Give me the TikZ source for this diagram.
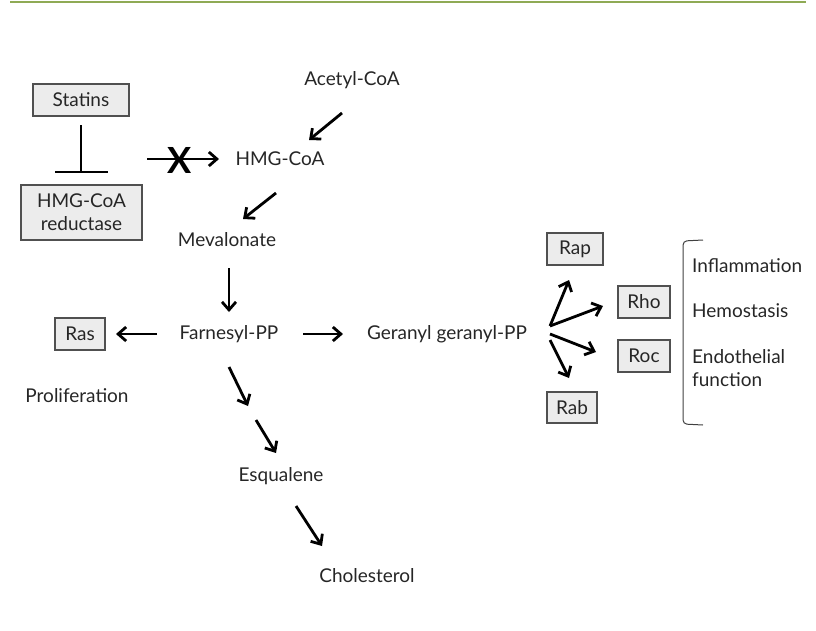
\documentclass[tikz,border=0pt]{standalone}
\usepackage{fontspec}
\setmainfont{Lato}
\usetikzlibrary{arrows.meta}
\definecolor{txt}{HTML}{262626}
\definecolor{boxfill}{HTML}{ECECEC}
\definecolor{boxline}{HTML}{505050}
\definecolor{topline}{HTML}{8FAA55}
\begin{document}
\begin{tikzpicture}[x=1pt,y=-1pt,
  every node/.style={text=txt,font=\fontsize{19}{23}\selectfont,inner sep=0pt},
  graybox/.style={draw=boxline,fill=boxfill,line width=1.1pt},
  arr/.style={draw=black,line width=2.8pt,-{Straight Barb[length=8pt,width=14pt,line width=2.8pt]}},
  inhib/.style={draw=black,line width=2pt}]
\useasboundingbox (0,0) rectangle (816,630);
\draw[topline,line width=2pt] (10,2) -- (806,2);

% boxes
\node[graybox,minimum width=96pt,minimum height=32pt] (statins) at (81,100) {Statins};
\node[graybox,minimum width=121pt,minimum height=55pt,align=center] (reductase) at (81.5,212.5) {HMG-CoA\\reductase};
\node[graybox,minimum width=50pt,minimum height=32pt] (ras) at (80,334) {Ras};
\node[graybox,minimum width=56pt,minimum height=32pt] (rap) at (575,249) {Rap};
\node[graybox,minimum width=52pt,minimum height=32pt] (rho) at (644,302) {Rho};
\node[graybox,minimum width=52pt,minimum height=32pt] (roc) at (644,356) {Roc};
\node[graybox,minimum width=50pt,minimum height=31pt] (rab) at (572,407.5) {Rab};

% texts
\node (acetyl) at (352,80) {Acetyl-CoA};
\node (hmg) at (280,159) {HMG-CoA};
\node (meva) at (227,240) {Mevalonate};
\node (farn) at (229,334) {Farnesyl-PP};
\node (ger) at (447,334) {Geranyl geranyl-PP};
\node (prolif) at (77,396) {Proliferation};
\node (esq) at (281,476) {Esqualene};
\node (chol) at (367,576) {Cholesterol};
\node[anchor=west] (infl) at (692,266) {Inflammation};
\node[anchor=west] (hemo) at (692,311) {Hemostasis};
\node[anchor=west,align=left] (endo) at (692,368) {Endothelial\\function};

% statin inhibition
\coordinate (s1) at (81,125);
\coordinate (s2) at (81,172);
\draw[inhib] (s1) -- (s2);
\draw[inhib] (55,172) -- (108,172);

% blocked arrow
\coordinate (b1) at (147,159);
\coordinate (b2) at (219,159);
\draw[arr] (b1) -- (b2);
\node[font=\fontsize{36}{36}\bfseries\selectfont,text=black] (xmark) at (180,160) {X};

% pathway arrows
\coordinate (a1) at (342,113); \coordinate (a2) at (309,140);
\draw[arr] (a1) -- (a2);
\coordinate (h1) at (276,193); \coordinate (h2) at (243,219);
\draw[arr] (h1) -- (h2);
\coordinate (m1) at (229,268); \coordinate (m2) at (229,312);
\draw[arr] (m1) -- (m2);
\coordinate (f1) at (157,334); \coordinate (f2) at (116,334);
\draw[arr] (f1) -- (f2);
\coordinate (g1) at (303,334); \coordinate (g2) at (343,334);
\draw[arr] (g1) -- (g2);
\coordinate (d1) at (229,367); \coordinate (d2) at (248,406);
\draw[arr] (d1) -- (d2);
\coordinate (e1) at (256,420); \coordinate (e2) at (276,453);
\draw[arr] (e1) -- (e2);
\coordinate (c1) at (296,506); \coordinate (c2) at (322,546);
\draw[arr] (c1) -- (c2);

% fan arrows
\coordinate (o1) at (550,326);
\coordinate (o2) at (550,334);
\coordinate (o3) at (550,340);
\coordinate (t1) at (569,280);
\coordinate (t2) at (603,306);
\coordinate (t3) at (596,352);
\coordinate (t4) at (569,378);
\draw[arr] (o1) -- (t1);
\draw[arr] (o1) -- (t2);
\draw[arr] (o2) -- (t3);
\draw[arr] (o3) -- (t4);

% bracket
\draw[black!75,line width=1pt,rounded corners=4pt] (703,240) -- (683,241) -- (683,424) -- (703,425);
\end{tikzpicture}
\end{document}
